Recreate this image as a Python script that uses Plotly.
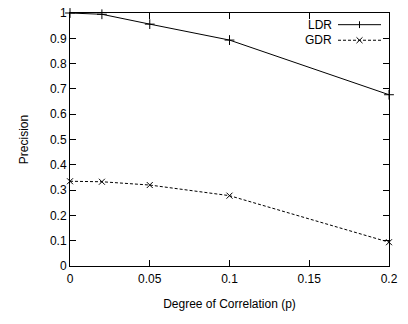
import plotly.graph_objects as go

x_vals = [0, 0.02, 0.05, 0.1, 0.2]
ldr = [1.0, 0.995, 0.956, 0.893, 0.677]
gdr = [0.335, 0.333, 0.32, 0.278, 0.094]
x_ticks = [0, 0.05, 0.1, 0.15, 0.2]
x_tick_text = ["0", "0.05", "0.1", "0.15", "0.2"]
y_ticks = [0, 0.1, 0.2, 0.3, 0.4, 0.5, 0.6, 0.7, 0.8, 0.9, 1.0]
y_tick_text = ["0", "0.1", "0.2", "0.3", "0.4", "0.5", "0.6", "0.7", "0.8", "0.9", "1"]

W, H = 408, 324
L, R, T, B = 70, 19, 6, 58
FONT = "Liberation Sans, Arial, sans-serif"

fig = go.Figure()
fig.add_trace(go.Scatter(x=x_vals, y=ldr, mode="lines+markers", name="LDR",
                         line=dict(color="black", width=1),
                         marker=dict(symbol="cross-thin", size=7, line=dict(color="black", width=1)),
                         cliponaxis=False))
fig.add_trace(go.Scatter(x=x_vals, y=gdr, mode="lines+markers", name="GDR",
                         line=dict(color="black", width=1, dash="3px,2px"),
                         marker=dict(symbol="x-thin", size=6, line=dict(color="black", width=1)),
                         cliponaxis=False))

axis_common = dict(showline=True, linecolor="black", linewidth=1, mirror="allticks",
                   ticks="inside", ticklen=6, tickcolor="black", tickwidth=1,
                   showgrid=False, zeroline=False, ticklabeloverflow="allow",
                   tickfont=dict(family=FONT, size=12, color="black"))

fig.update_xaxes(range=[0, 0.2], tickvals=x_ticks, ticktext=x_tick_text, ticklabelstandoff=2,
                 title=dict(text="Degree of Correlation (p)", font=dict(family=FONT, size=12, color="black"), standoff=14),
                 **axis_common)
fig.update_yaxes(range=[0, 1], tickvals=y_ticks, ticktext=y_tick_text,
                 title=dict(text="Precision", font=dict(family=FONT, size=12, color="black"), standoff=18),
                 **axis_common)

pw = W - L - R
ph = H - T - B

def px(xp):
    return (xp - L) / pw

def py(yp):
    return (H - B - yp) / ph

shapes = []
annotations = []
legend_items = [("LDR", 18, "solid", "plus"), ("GDR", 34, "dash", "x")]
for label, ypix, dash, mk in legend_items:
    annotations.append(dict(x=px(334), y=py(ypix), xref="paper", yref="paper",
                            text=label, showarrow=False, xanchor="right", yanchor="middle",
                            font=dict(family=FONT, size=12, color="black")))
    shapes.append(dict(type="line", xref="paper", yref="paper",
                       x0=px(338), x1=px(381), y0=py(ypix), y1=py(ypix),
                       line=dict(color="black", width=1, dash="solid" if dash == "solid" else "3px,2px")))
    cx = 359.5
    if mk == "plus":
        shapes.append(dict(type="line", xref="paper", yref="paper",
                           x0=px(cx), x1=px(cx), y0=py(ypix - 3.5), y1=py(ypix + 3.5),
                           line=dict(color="black", width=1)))
    else:
        shapes.append(dict(type="line", xref="paper", yref="paper",
                           x0=px(cx - 3), x1=px(cx + 3), y0=py(ypix - 3), y1=py(ypix + 3),
                           line=dict(color="black", width=1)))
        shapes.append(dict(type="line", xref="paper", yref="paper",
                           x0=px(cx - 3), x1=px(cx + 3), y0=py(ypix + 3), y1=py(ypix - 3),
                           line=dict(color="black", width=1)))

fig.update_layout(width=W, height=H, margin=dict(l=L, r=R, t=T, b=B),
                  plot_bgcolor="white", paper_bgcolor="white", showlegend=False,
                  shapes=shapes, annotations=annotations,
                  font=dict(family=FONT, size=12, color="black"))

fig.write_html("out.html")
